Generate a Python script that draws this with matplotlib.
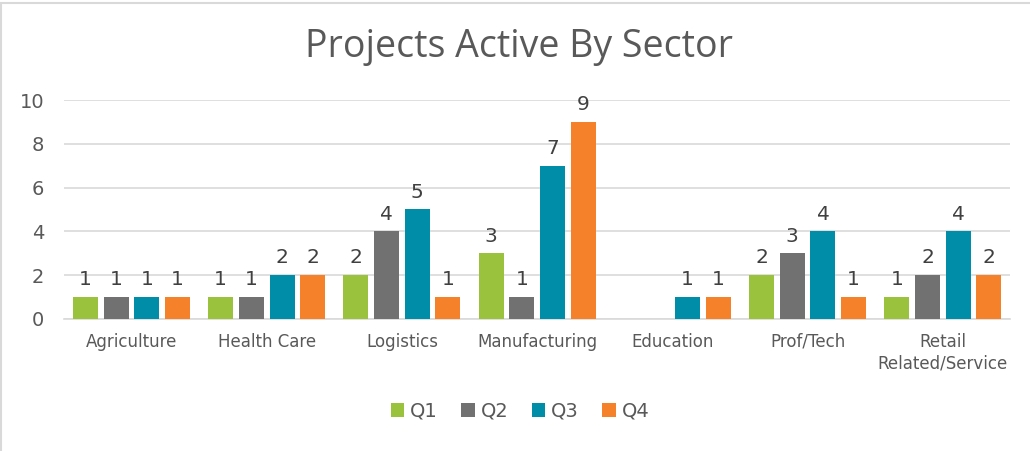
import numpy as np
import matplotlib
matplotlib.use("Agg")
import matplotlib.pyplot as plt
from matplotlib.patches import Rectangle

sectors = ['Agriculture', 'Health Care', 'Logistics', 'Manufacturing',
           'Education', 'Prof/Tech', 'Retail\nRelated/Service']
quarters = ['Q1', 'Q2', 'Q3', 'Q4']
q1 = [1, 1, 2, 3, 0, 2, 1]
q2 = [1, 1, 4, 1, 0, 3, 2]
q3 = [1, 2, 5, 7, 1, 4, 4]
q4 = [1, 2, 1, 9, 1, 1, 2]
colors = ['#9BC23C', '#717171', '#008DA8', '#F5822A']
text_col = '#595959'

plt.rcParams['font.family'] = ['DejaVu Sans']

fig = plt.figure(figsize=(10.3, 4.51), dpi=100)
ax = fig.add_axes([0.062, 0.293, 0.919, 0.485])

x = np.arange(len(sectors))
step = 0.227
width = 0.185
for i, (vals, c, q) in enumerate(zip([q1, q2, q3, q4], colors, quarters)):
    pos = x + (i - 1.5) * step
    bars = ax.bar(pos, vals, width, color=c, label=q, zorder=3)
    for b, v in zip(bars, vals):
        if v > 0:
            ax.text(b.get_x() + b.get_width() / 2, v + 0.35, str(v),
                    ha='center', va='bottom', fontsize=14.5, color='#404040')

ax.set_xlim(-0.5, len(sectors) - 0.5)
ax.set_ylim(0, 10)
ax.set_yticks(range(0, 11, 2))
ax.yaxis.grid(True, color='#D9D9D9', linewidth=1.2, zorder=0)
ax.set_axisbelow(True)
for s in ['top', 'right', 'left']:
    ax.spines[s].set_visible(False)
ax.spines['bottom'].set_color('#D9D9D9')
ax.spines['bottom'].set_linewidth(1.2)
ax.tick_params(axis='both', length=0)
ax.tick_params(axis='y', labelsize=14, labelcolor=text_col, pad=14)
ax.set_xticks(x)
ax.set_xticklabels(sectors, fontsize=12, color=text_col, linespacing=1.25)
ax.tick_params(axis='x', pad=10)

fig.text(0.504, 0.895, 'Projects Active By Sector', ha='center', va='center',
         fontsize=27, color=text_col, family='Open Sans')

leg = fig.legend(loc='center', bbox_to_anchor=(0.505, 0.088), ncol=4,
                 frameon=False, fontsize=14, handlelength=0.7, handleheight=0.7,
                 handletextpad=0.3, columnspacing=1.2)
for t in leg.get_texts():
    t.set_color(text_col)

# chart frame
fig.patches.append(Rectangle((0.001, -0.01), 1.2, 1.003, transform=fig.transFigure,
                             fill=False, edgecolor='#D9D9D9', linewidth=1.5))

fig.savefig('out.png', dpi=100)
